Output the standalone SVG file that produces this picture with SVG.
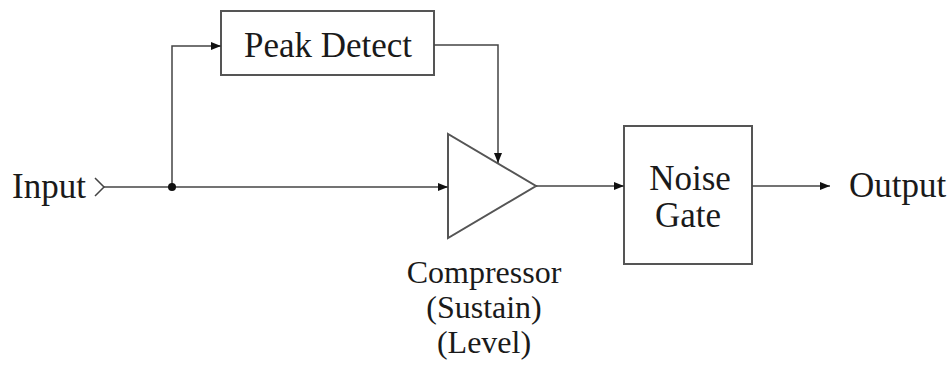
<svg xmlns="http://www.w3.org/2000/svg" width="951" height="367" viewBox="0 0 951 367">
<style>
text{font-family:"Liberation Serif","Times New Roman",serif;font-size:35px;fill:#1a1a1a}
.lbl{font-size:32px}
.box{fill:none;stroke:#555;stroke-width:2}
.wire{fill:none;stroke:#444;stroke-width:1.5}
</style>
<defs>
<marker id="ah" viewBox="0 0 10 8" refX="10" refY="4" markerWidth="10" markerHeight="8" markerUnits="userSpaceOnUse" orient="auto">
<path d="M0,0 L10,4 L0,8 Z" fill="#111"/>
</marker>
</defs>
<rect width="951" height="367" fill="#fff"/>
<g id="input">
<text x="12" y="198">Input</text>
<polyline class="wire" points="95,178 104,187 95,196"/>
</g>
<g id="peak-detect">
<rect class="box" x="221" y="11" width="213" height="64"/>
<text x="328" y="57" text-anchor="middle">Peak Detect</text>
</g>
<g id="compressor">
<polygon class="box" points="448,134 448,238 536,186" stroke-width="1.5"/>
<text class="lbl" x="484" y="283" text-anchor="middle">Compressor</text>
<text class="lbl" x="484" y="318" text-anchor="middle">(Sustain)</text>
<text class="lbl" x="484" y="353" text-anchor="middle">(Level)</text>
</g>
<g id="noise-gate">
<rect class="box" x="624" y="126" width="128" height="138"/>
<text x="690" y="190" text-anchor="middle">Noise</text>
<text x="688" y="227" text-anchor="middle">Gate</text>
</g>
<g id="output">
<text x="849" y="197">Output</text>
</g>
<g id="connectors">
<line class="wire" x1="104" y1="187" x2="448" y2="187" marker-end="url(#ah)"/>
<polyline class="wire" points="172,187 172,46 221,46" marker-end="url(#ah)"/>
<circle cx="172" cy="187" r="4" fill="#111"/>
<polyline class="wire" points="434,45 498,45 498,163" marker-end="url(#ah)"/>
<line class="wire" x1="536" y1="186" x2="624" y2="186" marker-end="url(#ah)"/>
<line class="wire" x1="752" y1="186" x2="830" y2="186" marker-end="url(#ah)"/>
</g>
</svg>
